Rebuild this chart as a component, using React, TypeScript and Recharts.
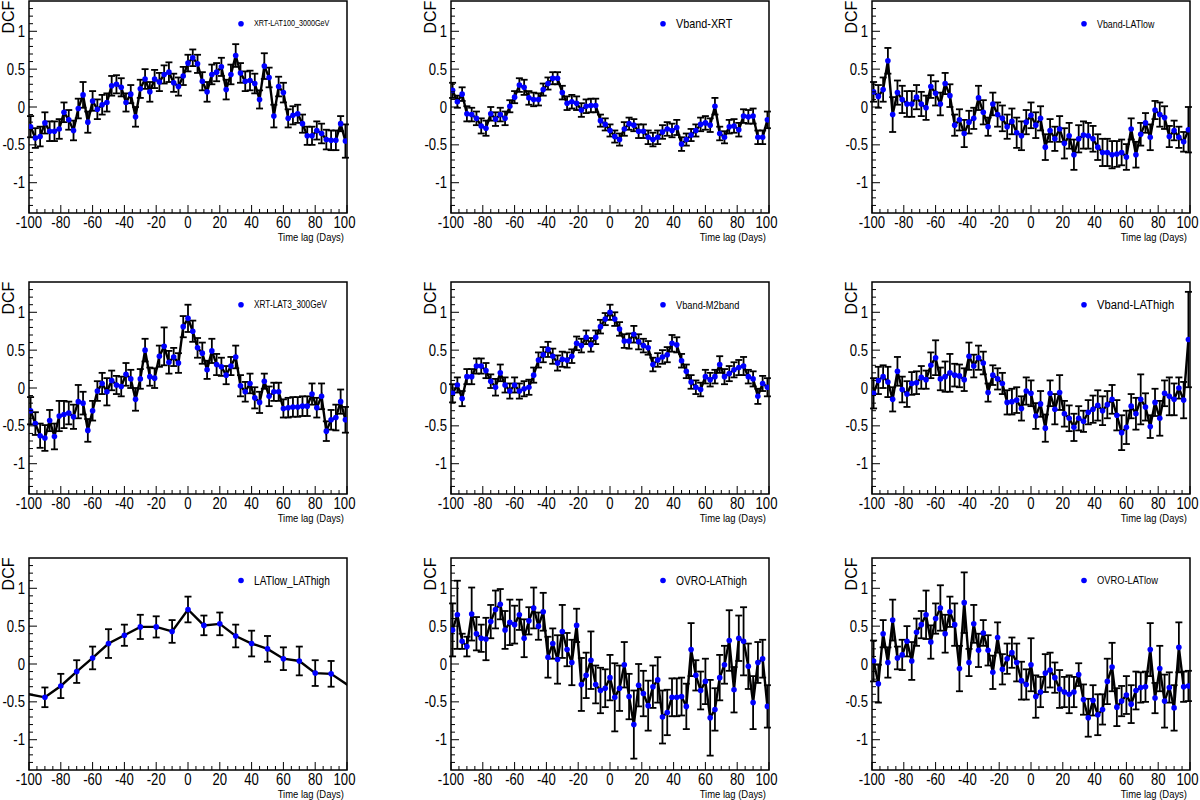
import { ComposedChart, Line, ErrorBar, XAxis, YAxis, ReferenceArea } from "recharts";

// time lags (days) of the 3-day binned DCFs
const LAGS = [
  -99, -96, -93, -90, -87, -84, -81, -78, -75, -72, -69, -66, -63, -60, -57, -54, -51,
  -48, -45, -42, -39, -36, -33, -30, -27, -24, -21, -18, -15, -12, -9, -6, -3, 0, 3, 6,
  9, 12, 15, 18, 21, 24, 27, 30, 33, 36, 39, 42, 45, 48, 51, 54, 57, 60, 63, 66, 69, 72,
  75, 78, 81, 84, 87, 90, 93, 96, 99,
];
// 10-day binned DCF (LATlow vs LAThigh), incl. points just outside the window
const LAGS_10 = [-110, -90, -80, -70, -60, -50, -40, -30, -20, -10, 0, 10, 20, 30, 40, 50, 60, 70, 80, 90, 110];

const X_TICKS = [
  -100, -95, -90, -85, -80, -75, -70, -65, -60, -55, -50, -45, -40, -35, -30, -25, -20,
  -15, -10, -5, 0, 5, 10, 15, 20, 25, 30, 35, 40, 45, 50, 55, 60, 65, 70, 75, 80, 85, 90,
  95, 100,
];
const Y_TICKS = [
  -1.3, -1.2, -1.1, -1, -0.9, -0.8, -0.7, -0.6, -0.5, -0.4, -0.3, -0.2, -0.1, 0, 0.1, 0.2,
  0.3, 0.4, 0.5, 0.6, 0.7, 0.8, 0.9, 1, 1.1, 1.2, 1.3,
];

const XRT_LAT100 = [
  -0.26, -0.41, -0.39, -0.21, -0.32, -0.32, -0.29, -0.07, -0.17, -0.31,
  -0.02, 0.16, -0.2, 0.08, -0.03, 0.03, 0.06, 0.28, 0.3, 0.26,
  0.06, 0.17, -0.13, 0.24, 0.37, 0.2, 0.37, 0.33, 0.43, 0.46,
  0.32, 0.27, 0.41, 0.58, 0.65, 0.57, 0.34, 0.2, 0.43, 0.46,
  0.53, 0.23, 0.43, 0.68, 0.45, 0.34, 0.35, 0.31, 0.1, 0.54,
  0.39, -0.12, 0.27, 0.19, -0.15, -0.11, -0.09, -0.22, -0.38, -0.38,
  -0.31, -0.35, -0.43, -0.44, -0.44, -0.22, -0.45,
];
const XRT_LAT100_ERR = [
  0.14, 0.13, 0.13, 0.14, 0.13, 0.13, 0.13, 0.13, 0.13, 0.13,
  0.13, 0.17, 0.14, 0.13, 0.13, 0.13, 0.12, 0.13, 0.12, 0.12,
  0.12, 0.12, 0.13, 0.12, 0.13, 0.13, 0.12, 0.12, 0.12, 0.13,
  0.12, 0.12, 0.12, 0.11, 0.11, 0.12, 0.12, 0.13, 0.13, 0.12,
  0.12, 0.13, 0.13, 0.15, 0.13, 0.13, 0.13, 0.13, 0.12, 0.17,
  0.13, 0.15, 0.13, 0.13, 0.12, 0.12, 0.12, 0.12, 0.12, 0.12,
  0.12, 0.13, 0.13, 0.13, 0.13, 0.1, 0.22,
];

const VBAND_XRT = [
  0.22, 0.07, 0.17, -0.09, -0.1, -0.15, -0.25, -0.28, -0.09, -0.16,
  -0.1, -0.15, 0.01, 0.13, 0.29, 0.26, 0.12, 0.1, 0.1, 0.23,
  0.31, 0.38, 0.38, 0.19, 0.05, 0.07, 0.05, -0.04, 0.01, 0.02,
  0.02, -0.18, -0.23, -0.31, -0.39, -0.43, -0.29, -0.22, -0.24, -0.32,
  -0.32, -0.4, -0.43, -0.4, -0.33, -0.29, -0.31, -0.27, -0.49, -0.43,
  -0.37, -0.31, -0.23, -0.21, -0.24, 0.01, -0.35, -0.4, -0.26, -0.25,
  -0.3, -0.12, -0.13, -0.12, -0.4, -0.4, -0.17,
];
const VBAND_XRT_ERR = [
  0.1, 0.08, 0.09, 0.1, 0.09, 0.09, 0.1, 0.1, 0.09, 0.09,
  0.09, 0.09, 0.08, 0.08, 0.09, 0.1, 0.09, 0.09, 0.08, 0.08,
  0.08, 0.08, 0.08, 0.09, 0.09, 0.09, 0.09, 0.09, 0.09, 0.09,
  0.09, 0.08, 0.08, 0.08, 0.08, 0.08, 0.09, 0.08, 0.08, 0.09,
  0.09, 0.09, 0.09, 0.09, 0.09, 0.09, 0.09, 0.1, 0.09, 0.08,
  0.08, 0.08, 0.09, 0.09, 0.09, 0.11, 0.09, 0.08, 0.09, 0.09,
  0.09, 0.09, 0.09, 0.1, 0.09, 0.09, 0.11,
];

const VBAND_LATLOW = [
  0.2, 0.14, 0.23, 0.61, -0.1, 0.19, 0.1, 0.04, 0.04, 0.13,
  0.04, -0.01, 0.27, 0.18, 0.04, 0.31, 0.15, -0.24, -0.17, -0.35,
  -0.2, -0.15, 0.12, -0.07, -0.26, 0.04, -0.1, -0.15, -0.26, -0.19,
  -0.34, -0.38, -0.2, -0.11, -0.24, -0.15, -0.53, -0.31, -0.42, -0.29,
  -0.48, -0.38, -0.63, -0.42, -0.37, -0.38, -0.42, -0.53, -0.6, -0.6,
  -0.63, -0.62, -0.6, -0.66, -0.29, -0.63, -0.36, -0.21, -0.4, -0.04,
  -0.1, -0.14, -0.39, -0.31, -0.4, -0.46, -0.3,
];
const VBAND_LATLOW_ERR = [
  0.13, 0.15, 0.16, 0.17, 0.23, 0.16, 0.18, 0.17, 0.17, 0.16,
  0.16, 0.16, 0.15, 0.16, 0.15, 0.14, 0.15, 0.14, 0.14, 0.18,
  0.15, 0.14, 0.16, 0.16, 0.12, 0.15, 0.16, 0.17, 0.16, 0.17,
  0.2, 0.19, 0.16, 0.17, 0.17, 0.16, 0.17, 0.15, 0.16, 0.17,
  0.2, 0.17, 0.2, 0.18, 0.18, 0.17, 0.17, 0.17, 0.18, 0.18,
  0.18, 0.17, 0.17, 0.17, 0.14, 0.17, 0.15, 0.13, 0.17, 0.12,
  0.16, 0.15, 0.14, 0.13, 0.14, 0.13, 0.3,
];

const XRT_LAT3 = [
  -0.3, -0.47, -0.63, -0.66, -0.43, -0.64, -0.37, -0.35, -0.33, -0.38,
  -0.18, -0.2, -0.56, -0.3, -0.04, 0.06, -0.05, 0.1, 0.04, 0.02,
  0.18, 0.12, -0.15, 0.12, 0.5, 0.15, 0.13, 0.42, 0.55, 0.34,
  0.41, 0.33, 0.81, 0.92, 0.75, 0.53, 0.46, 0.24, 0.49, 0.31,
  0.28, 0.17, 0.29, 0.41, 0.03, -0.05, 0.06, -0.13, -0.19, 0.09,
  -0.11, -0.05, -0.05, -0.27, -0.26, -0.25, -0.25, -0.24, -0.24, -0.08,
  -0.26, -0.11, -0.57, -0.42, -0.39, -0.18, -0.42,
];
const XRT_LAT3_ERR = [
  0.18, 0.15, 0.16, 0.17, 0.14, 0.17, 0.2, 0.18, 0.15, 0.16,
  0.22, 0.15, 0.15, 0.13, 0.13, 0.14, 0.18, 0.13, 0.12, 0.13,
  0.15, 0.12, 0.15, 0.13, 0.15, 0.12, 0.13, 0.14, 0.25, 0.15,
  0.12, 0.13, 0.14, 0.18, 0.14, 0.13, 0.14, 0.12, 0.16, 0.14,
  0.12, 0.12, 0.12, 0.15, 0.14, 0.13, 0.13, 0.14, 0.14, 0.1,
  0.13, 0.12, 0.12, 0.12, 0.13, 0.13, 0.13, 0.13, 0.13, 0.14,
  0.13, 0.17, 0.13, 0.13, 0.17, 0.16, 0.17,
];

const VBAND_M2 = [
  -0.07, 0.04, -0.14, 0.15, 0.15, 0.29, 0.29, 0.23, 0.09, 0.01,
  0.2, 0.04, -0.04, 0.04, -0.04, -0.01, 0.01, 0.17, 0.37, 0.44,
  0.51, 0.42, 0.33, 0.38, 0.37, 0.42, 0.59, 0.56, 0.67, 0.57,
  0.67, 0.81, 0.91, 1.0, 0.91, 0.78, 0.62, 0.62, 0.71, 0.61,
  0.56, 0.53, 0.31, 0.37, 0.41, 0.44, 0.59, 0.57, 0.36, 0.22,
  0.08, 0.01, -0.02, 0.15, 0.11, 0.15, 0.31, 0.15, 0.19, 0.24,
  0.27, 0.29, 0.15, 0.12, -0.11, 0.06, 0.01,
];
const VBAND_M2_ERR = [
  0.12, 0.1, 0.1, 0.1, 0.1, 0.1, 0.1, 0.1, 0.09, 0.11,
  0.11, 0.1, 0.1, 0.1, 0.1, 0.1, 0.1, 0.1, 0.1, 0.1,
  0.1, 0.1, 0.1, 0.1, 0.1, 0.09, 0.09, 0.09, 0.09, 0.09,
  0.09, 0.09, 0.08, 0.1, 0.09, 0.09, 0.09, 0.1, 0.11, 0.1,
  0.09, 0.09, 0.09, 0.09, 0.09, 0.1, 0.11, 0.1, 0.09, 0.09,
  0.09, 0.09, 0.09, 0.09, 0.09, 0.09, 0.11, 0.1, 0.1, 0.1,
  0.1, 0.12, 0.09, 0.1, 0.1, 0.1, 0.12,
];

const VBAND_LATHIGH = [
  -0.07, 0.1, 0.15, 0.08, -0.15, 0.22, -0.02, -0.08, 0.06, 0.07,
  0.14, 0.11, 0.3, 0.4, 0.12, 0.15, 0.2, 0.17, 0.16, 0.11,
  0.42, 0.29, 0.4, 0.33, -0.06, 0.17, 0.12, 0.06, -0.19, -0.18,
  -0.16, -0.27, -0.04, -0.07, -0.37, -0.21, -0.53, -0.07, -0.28, -0.06,
  -0.34, -0.4, -0.52, -0.4, -0.44, -0.32, -0.28, -0.23, -0.3, -0.22,
  -0.15, -0.36, -0.59, -0.52, -0.24, -0.34, -0.15, -0.25, -0.51, -0.19,
  -0.4, -0.07, -0.11, -0.15, 0.0, -0.16, 0.64,
];
const VBAND_LATHIGH_ERR = [
  0.2, 0.18, 0.15, 0.2, 0.16, 0.19, 0.17, 0.17, 0.15, 0.15,
  0.15, 0.12, 0.17, 0.23, 0.15, 0.2, 0.25, 0.15, 0.15, 0.15,
  0.18, 0.15, 0.16, 0.15, 0.12, 0.13, 0.14, 0.14, 0.16, 0.17,
  0.17, 0.16, 0.18, 0.17, 0.17, 0.17, 0.18, 0.17, 0.2, 0.23,
  0.17, 0.17, 0.18, 0.16, 0.14, 0.16, 0.18, 0.2, 0.19, 0.18,
  0.19, 0.2, 0.23, 0.22, 0.16, 0.21, 0.33, 0.18, 0.15, 0.18,
  0.23, 0.17, 0.25, 0.21, 0.14, 0.24, 0.63,
];

const LATLOW_LATHIGH = [-0.36, -0.44, -0.29, -0.1, 0.08, 0.27, 0.38, 0.49, 0.49, 0.43, 0.72, 0.51, 0.53, 0.37, 0.27, 0.2, 0.07, 0.04, -0.12, -0.13, -0.41];
const LATLOW_LATHIGH_ERR = [0, 0.13, 0.16, 0.15, 0.15, 0.19, 0.14, 0.16, 0.14, 0.15, 0.17, 0.13, 0.15, 0.15, 0.17, 0.17, 0.15, 0.19, 0.17, 0.17, 0];

const OVRO_LATHIGH = [
  0.45, 0.65, 0.3, 0.23, 0.66, 0.4, 0.34, 0.33, 0.56, 0.72,
  0.79, 0.45, 0.55, 0.52, 0.65, 0.34, 0.57, 0.74, 0.5, 0.69,
  0.09, 0.27, 0.06, 0.43, 0.19, 0.02, 0.51, -0.27, -0.15, 0.05,
  -0.27, -0.35, -0.32, -0.18, -0.44, -0.32, -0.01, -0.43, -0.8, -0.28,
  -0.39, -0.55, -0.3, -0.21, -0.7, -0.64, -0.44, -0.44, -0.43, -0.56,
  0.19, -0.15, -0.35, -0.23, -0.71, -0.6, -0.18, -0.01, 0.31, -0.34,
  0.34, 0.3, -0.03, -0.51, 0.02, 0.07, -0.56,
];
const OVRO_LATHIGH_ERR = [
  0.35, 0.45, 0.1, 0.13, 0.35, 0.22, 0.18, 0.28, 0.22, 0.25,
  0.2, 0.25, 0.3, 0.25, 0.2, 0.25, 0.18, 0.27, 0.18, 0.25,
  0.27, 0.2, 0.32, 0.35, 0.22, 0.3, 0.22, 0.35, 0.3, 0.38,
  0.25, 0.3, 0.25, 0.3, 0.45, 0.3, 0.3, 0.3, 0.45, 0.28,
  0.3, 0.33, 0.28, 0.3, 0.35, 0.3, 0.25, 0.25, 0.25, 0.3,
  0.35, 0.2, 0.25, 0.3, 0.5, 0.28, 0.3, 0.25, 0.4, 0.3,
  0.3, 0.45, 0.3, 0.35, 0.27, 0.25, 0.28,
];

const OVRO_LATLOW = [
  0.04, -0.26, 0.4, 0.02, 0.58, 0.08, 0.12, 0.3, 0.04, 0.42,
  0.52, 0.65, 0.29, 0.6, 0.74, 0.4, 0.69, 0.52, -0.06, 0.81,
  0.02, 0.53, 0.18, 0.41, 0.18, -0.11, 0.35, -0.07, 0.07, 0.15,
  0.02, -0.22, -0.27, -0.01, -0.43, -0.37, -0.12, -0.08, -0.18, -0.33,
  -0.37, -0.4, -0.37, -0.14, -0.47, -0.71, -0.48, -0.67, -0.6, -0.23,
  -0.04, -0.57, -0.49, -0.41, -0.53, -0.35, -0.31, -0.3, 0.19, -0.45,
  -0.06, -0.49, -0.31, -0.58, 0.22, -0.3, -0.29,
];
const OVRO_LATLOW_ERR = [
  0.27, 0.25, 0.18, 0.2, 0.27, 0.15, 0.2, 0.2, 0.25, 0.18,
  0.18, 0.32, 0.22, 0.2, 0.3, 0.25, 0.2, 0.28, 0.3, 0.4,
  0.18, 0.25, 0.22, 0.17, 0.2, 0.22, 0.2, 0.2, 0.2, 0.2,
  0.25, 0.25, 0.2, 0.35, 0.28, 0.2, 0.25, 0.23, 0.2, 0.25,
  0.2, 0.25, 0.2, 0.15, 0.2, 0.25, 0.2, 0.27, 0.2, 0.3,
  0.32, 0.25, 0.2, 0.25, 0.25, 0.25, 0.2, 0.2, 0.35, 0.2,
  0.3, 0.35, 0.2, 0.3, 0.33, 0.2, 0.2,
];

const PLOT_W = 318;
const PLOT_H = 212;
const Y_AXIS_W = 29;
const M_TOP = 6;
const M_RIGHT = 12;
const X_AXIS_H = 40;
const COL_X = [29, 451, 872];
const ROW_Y = [0.7, 281.7, 557.5];

const FONT = "'Liberation Sans', Arial, Helvetica, sans-serif";

function XTick(props: any) {
  const { x, y, payload } = props;
  const v = payload.value;
  const major = v % 20 === 0;
  // the last label sits a little left of its tick, as in the original
  const lx = v === 100 ? x - 2.5 : x;
  return (
    <g>
      <line x1={x} y1={y} x2={x} y2={y - (major ? 8 : 4)} stroke="#000" strokeWidth={1} />
      {major && (
        <text
          transform={`translate(${lx},${y + 14.5}) scale(0.82,1)`}
          textAnchor="middle"
          fontSize={16}
          fontFamily={FONT}
          fill="#000"
        >
          {v}
        </text>
      )}
    </g>
  );
}

function YTick(props: any) {
  const { x, y, payload } = props;
  const v = payload.value;
  const major = Math.round(v * 10) % 5 === 0;
  return (
    <g>
      <line x1={x} y1={y} x2={x + (major ? 8 : 4)} y2={y} stroke="#000" strokeWidth={1} />
      {major && (
        <text
          transform={`translate(${x - 4},${y + 5.6}) scale(0.82,1)`}
          textAnchor="end"
          fontSize={16}
          fontFamily={FONT}
          fill="#000"
        >
          {v}
        </text>
      )}
    </g>
  );
}

interface PanelProps {
  col: number;
  row: number;
  lags: number[];
  dcf: number[];
  err: number[];
  label: string;
  labelSize: number;
}

function Panel({ col, row, lags, dcf, err }: PanelProps) {
  const data = lags.map((lag, i) => ({ lag, dcf: dcf[i], err: err[i] }));
  return (
    <div
      style={{
        position: "absolute",
        left: COL_X[col] - Y_AXIS_W,
        top: ROW_Y[row] - M_TOP,
      }}
    >
      <ComposedChart
        width={Y_AXIS_W + PLOT_W + M_RIGHT}
        height={M_TOP + PLOT_H + X_AXIS_H}
        data={data}
        margin={{ top: M_TOP, right: M_RIGHT, left: 0, bottom: 0 }}
      >
        <XAxis
          type="number"
          dataKey="lag"
          domain={[-100, 100]}
          allowDataOverflow
          ticks={X_TICKS}
          interval={0}
          tickSize={0}
          tickMargin={0}
          axisLine={false}
          tickLine={false}
          tick={XTick}
          height={X_AXIS_H}
        />
        <YAxis
          type="number"
          domain={[-1.4, 1.4]}
          allowDataOverflow
          ticks={Y_TICKS}
          interval={0}
          tickSize={0}
          tickMargin={0}
          axisLine={false}
          tickLine={false}
          tick={YTick}
          width={Y_AXIS_W}
        />
        <ReferenceArea
          x1={-100}
          x2={100}
          y1={-1.4}
          y2={1.4}
          fill="none"
          fillOpacity={0}
          stroke="#000"
          strokeWidth={1.5}
          strokeOpacity={1}
        />
        <Line
          type="linear"
          dataKey="dcf"
          stroke="#000"
          strokeWidth={2.4}
          dot={{ r: 2.8, fill: "#0000ff", stroke: "none", strokeWidth: 0 }}
          activeDot={false}
          isAnimationActive={false}
        >
          <ErrorBar
            dataKey="err"
            direction="y"
            width={3.5}
            stroke="#000"
            strokeWidth={1.8}
            isAnimationActive={false}
          />
        </Line>
      </ComposedChart>
    </div>
  );
}

const PANELS: PanelProps[] = [
  { col: 0, row: 0, lags: LAGS, dcf: XRT_LAT100, err: XRT_LAT100_ERR, label: "XRT-LAT100_3000GeV", labelSize: 8.8 },
  { col: 1, row: 0, lags: LAGS, dcf: VBAND_XRT, err: VBAND_XRT_ERR, label: "Vband-XRT", labelSize: 13.2 },
  { col: 2, row: 0, lags: LAGS, dcf: VBAND_LATLOW, err: VBAND_LATLOW_ERR, label: "Vband-LATlow", labelSize: 10.8 },
  { col: 0, row: 1, lags: LAGS, dcf: XRT_LAT3, err: XRT_LAT3_ERR, label: "XRT-LAT3_300GeV", labelSize: 10.1 },
  { col: 1, row: 1, lags: LAGS, dcf: VBAND_M2, err: VBAND_M2_ERR, label: "Vband-M2band", labelSize: 11.3 },
  { col: 2, row: 1, lags: LAGS, dcf: VBAND_LATHIGH, err: VBAND_LATHIGH_ERR, label: "Vband-LAThigh", labelSize: 13.7 },
  { col: 0, row: 2, lags: LAGS_10, dcf: LATLOW_LATHIGH, err: LATLOW_LATHIGH_ERR, label: "LATlow_LAThigh", labelSize: 12.4 },
  { col: 1, row: 2, lags: LAGS, dcf: OVRO_LATHIGH, err: OVRO_LATHIGH_ERR, label: "OVRO-LAThigh", labelSize: 12.5 },
  { col: 2, row: 2, lags: LAGS, dcf: OVRO_LATLOW, err: OVRO_LATLOW_ERR, label: "OVRO-LATlow", labelSize: 11.4 },
];

export default function App() {
  return (
    <div
      style={{
        position: "absolute",
        left: 0,
        top: 0,
        width: 1200,
        height: 800,
        background: "#fff",
        overflow: "hidden",
        fontFamily: FONT,
      }}
    >
      {PANELS.map((p) => (
        <Panel key={p.label} {...p} />
      ))}
      <svg
        width={1200}
        height={800}
        style={{ position: "absolute", left: 0, top: 0, pointerEvents: "none" }}
      >
        {PANELS.map((p) => {
          const px = COL_X[p.col];
          const py = ROW_Y[p.row];
          return (
            <g key={p.label} fontFamily={FONT} fill="#000">
              <text transform={`translate(${px - 15.5},${py}) rotate(-90)`} textAnchor="end" fontSize={16}>
                DCF
              </text>
              <text
                transform={`translate(${px + PLOT_W - 3},${py + PLOT_H + 28}) scale(0.86,1)`}
                textAnchor="end"
                fontSize={11}
              >
                Time lag (Days)
              </text>
              <circle cx={px + 212} cy={py + 23} r={2.8} fill="#0000ff" />
              <text
                transform={`translate(${px + 225},${py + 23}) scale(0.82,1)`}
                dominantBaseline="central"
                fontSize={p.labelSize}
              >
                {p.label}
              </text>
            </g>
          );
        })}
      </svg>
    </div>
  );
}
